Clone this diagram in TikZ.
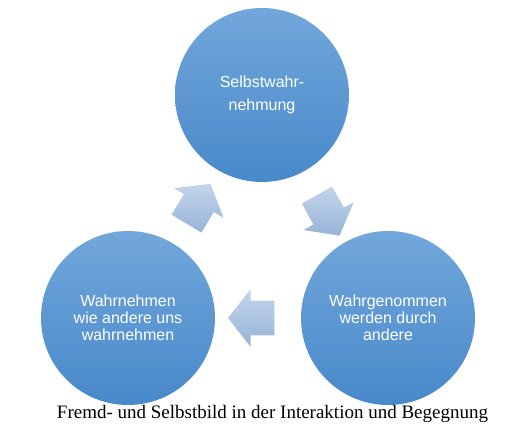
\documentclass[tikz,border=0pt]{standalone}
\usepackage{fontspec}
\setmainfont{Liberation Serif}
\setsansfont{Liberation Sans}
\usepackage{tikz}
\usetikzlibrary{calc, shapes.arrows}
\definecolor{ballTop}{HTML}{72A7DB}
\definecolor{ballBot}{HTML}{4889CA}
\definecolor{arrTop}{HTML}{C3D5EB}
\definecolor{arrBot}{HTML}{98B3D7}

\begin{document}
\begin{tikzpicture}[x=1pt, y=1pt,
    ball/.style={circle, minimum size=174pt, inner sep=0pt, top color=ballTop, bottom color=ballBot,
        text=white, align=center, font=\sffamily\fontsize{16}{17}\selectfont},
    blockarrow/.style={single arrow, minimum height=46pt, inner xsep=0pt, inner ysep=17pt,
        single arrow head extend=11pt, single arrow tip angle=104, rotate=#1}]
    \useasboundingbox (0,0) rectangle (529,435);
    \node[ball] (self) at (262,340) {Selbstwahr-\\[6pt]nehmung};
    \node[ball] (seen) at (388,117) {Wahrgenommen\\werden durch\\andere};
    \node[ball] (mirror) at (128,117) {Wahrnehmen\\wie andere uns\\wahrnehmen};
    \node[blockarrow=-61] (a1) at ($(self)!0.5!(seen)+(0,-3)$) {};
    \node[blockarrow=180] (a2) at ($(seen)!0.5!(mirror)$) {};
    \node[blockarrow=59]  (a3) at ($(mirror)!0.5!(self)+(0,-3)$) {};
    \foreach \a in {a1,a2,a3}
        \shade[top color=arrTop, bottom color=arrBot] (\a.tip) -- (\a.after tip) -- (\a.after head)
            -- (\a.before tail) -- (\a.after tail) -- (\a.before head) -- (\a.before tip) -- cycle;
    \node[font=\fontsize{19}{21}\selectfont] (caption) at (272.5,21) {Fremd- und Selbstbild in der Interaktion und Begegnung};
\end{tikzpicture}
\end{document}
